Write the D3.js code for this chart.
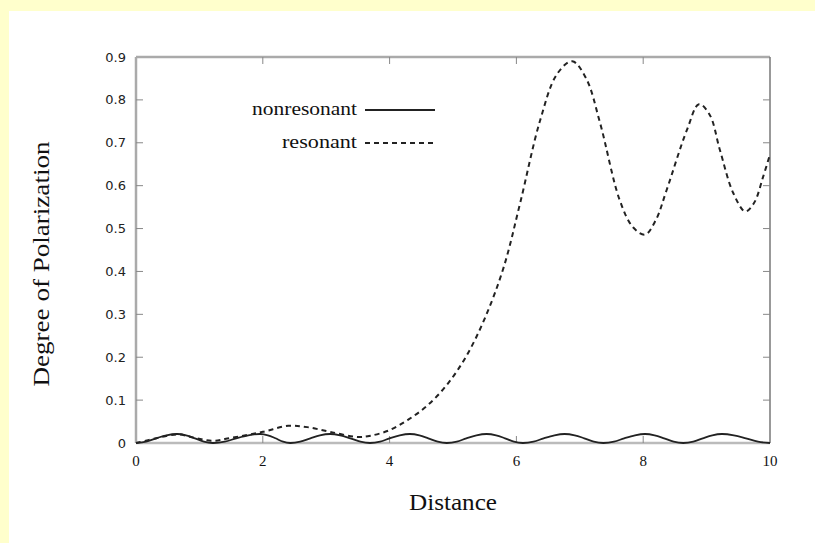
<!DOCTYPE html>
<html>
<head>
<meta charset="utf-8">
<script src="https://cdn.jsdelivr.net/npm/d3@7"></script>
<style>
  body { margin: 0; background: #ffffcc; }
  svg { display: block; }
</style>
</head>
<body>
<div id="chart"></div>
<script>
// values
const seriesNames = ["nonresonant", "resonant"];
const xTicks = [0, 2, 4, 6, 8, 10];
const yTicks = [0, 0.1, 0.2, 0.3, 0.4, 0.5, 0.6, 0.7, 0.8, 0.9];

const nonresX = [0, 0.16, 0.32, 0.48, 0.65, 0.79, 0.93, 1.07, 1.21, 1.4, 1.58, 1.77, 1.96, 2.08, 2.2, 2.32, 2.43, 2.59, 2.75, 2.9, 3.06, 3.22, 3.38, 3.54, 3.69, 3.85, 4.0, 4.16, 4.32, 4.47, 4.61, 4.76, 4.9, 5.06, 5.21, 5.37, 5.53, 5.68, 5.82, 5.96, 6.1, 6.27, 6.43, 6.6, 6.76, 6.92, 7.07, 7.22, 7.37, 7.54, 7.7, 7.87, 8.03, 8.18, 8.33, 8.48, 8.63, 8.79, 8.94, 9.09, 9.24, 9.43, 9.62, 9.81, 10];
const nonresY = [0, 0.003, 0.011, 0.018, 0.021, 0.018, 0.011, 0.003, 0, 0.003, 0.011, 0.018, 0.021, 0.018, 0.011, 0.003, 0, 0.003, 0.011, 0.018, 0.021, 0.018, 0.011, 0.003, 0, 0.003, 0.011, 0.018, 0.021, 0.018, 0.011, 0.003, 0, 0.003, 0.011, 0.018, 0.021, 0.018, 0.011, 0.003, 0, 0.003, 0.011, 0.018, 0.021, 0.018, 0.011, 0.003, 0, 0.003, 0.011, 0.018, 0.021, 0.018, 0.011, 0.003, 0, 0.003, 0.011, 0.018, 0.021, 0.018, 0.011, 0.003, 0];

const resX = [0, 0.32, 0.65, 0.93, 1.2, 1.5, 2.0, 2.4, 2.7, 3.06, 3.5, 3.7, 4.0, 4.3, 4.6, 4.9, 5.2, 5.5, 5.8, 6.06, 6.37, 6.64, 6.88, 7.1, 7.32, 7.63, 7.84, 8.03, 8.2, 8.37, 8.69, 8.88, 9.05, 9.21, 9.42, 9.61, 9.75, 9.89, 10];
const resY = [0, 0.011, 0.02, 0.012, 0.005, 0.012, 0.026, 0.04, 0.037, 0.026, 0.014, 0.017, 0.03, 0.055, 0.088, 0.135, 0.2, 0.29, 0.41, 0.56, 0.75, 0.86, 0.89, 0.85, 0.746, 0.566, 0.503, 0.486, 0.52, 0.59, 0.73, 0.79, 0.765, 0.683, 0.583, 0.54, 0.56, 0.62, 0.673];

const W = 815, H = 543;
const margin = {top: 57, right: 45, bottom: 100, left: 136};
const width = W - margin.left - margin.right,
      height = H - margin.top - margin.bottom;

const svg = d3.select("#chart").append("svg")
  .attr("width", W)
  .attr("height", H);

// white panel inside the yellow page
svg.append("rect")
  .attr("x", 9).attr("y", 11)
  .attr("width", W - 9).attr("height", H - 11)
  .attr("fill", "#fff");

const g = svg.append("g")
  .attr("transform", "translate(" + margin.left + "," + margin.top + ")");

const x = d3.scaleLinear().domain([0, 10]).range([0, width]);
const y = d3.scaleLinear().domain([0, 0.9]).range([height, 0]);

// frame
g.append("line").attr("x1", 0).attr("x2", width).attr("y1", 0).attr("y2", 0)
  .attr("stroke", "#aaa").attr("stroke-width", 2.5);
g.append("line").attr("x1", 0).attr("x2", 0).attr("y1", 0).attr("y2", height)
  .attr("stroke", "#aaa").attr("stroke-width", 2.5);
g.append("line").attr("x1", 0).attr("x2", width).attr("y1", height).attr("y2", height)
  .attr("stroke", "#bbb").attr("stroke-width", 2.5);
g.append("line").attr("x1", width).attr("x2", width).attr("y1", 0).attr("y2", height)
  .attr("stroke", "#777").attr("stroke-width", 1.5);

// inward ticks, mirrored like gnuplot
const tickLen = 7;
g.selectAll(".ytl").data(yTicks.slice(1, -1)).enter().append("line")
  .attr("x1", 0).attr("x2", tickLen)
  .attr("y1", d => y(d)).attr("y2", d => y(d))
  .attr("stroke", "#888").attr("stroke-width", 1);
g.selectAll(".ytr").data(yTicks.slice(1, -1)).enter().append("line")
  .attr("x1", width - tickLen).attr("x2", width)
  .attr("y1", d => y(d)).attr("y2", d => y(d))
  .attr("stroke", "#888").attr("stroke-width", 1);
g.selectAll(".xtb").data(xTicks.slice(1, -1)).enter().append("line")
  .attr("x1", d => x(d)).attr("x2", d => x(d))
  .attr("y1", height).attr("y2", height - tickLen)
  .attr("stroke", "#888").attr("stroke-width", 1);
g.selectAll(".xtt").data(xTicks.slice(1, -1)).enter().append("line")
  .attr("x1", d => x(d)).attr("x2", d => x(d))
  .attr("y1", 0).attr("y2", tickLen)
  .attr("stroke", "#888").attr("stroke-width", 1);

// tick labels
g.selectAll(".ylab").data(yTicks).enter().append("text")
  .attr("x", -10).attr("y", d => y(d) + 4.5)
  .attr("text-anchor", "end")
  .attr("font-family", "DejaVu Sans, sans-serif")
  .attr("font-size", "13px")
  .attr("fill", "#222")
  .text(d => d === 0 ? "0" : d3.format(".1f")(d));

g.selectAll(".xlab").data(xTicks).enter().append("text")
  .attr("x", d => x(d)).attr("y", height + 23)
  .attr("text-anchor", "middle")
  .attr("font-family", "Liberation Serif, serif")
  .attr("font-size", "15px")
  .attr("fill", "#111")
  .text(d => d);

// axis titles
svg.append("text")
  .attr("x", margin.left + width / 2).attr("y", 510)
  .attr("text-anchor", "middle")
  .attr("font-family", "Liberation Serif, serif")
  .attr("font-size", "24px")
  .attr("textLength", 88)
  .attr("lengthAdjust", "spacingAndGlyphs")
  .attr("fill", "#111")
  .text("Distance");

svg.append("text")
  .attr("transform", "translate(49,264) rotate(-90)")
  .attr("text-anchor", "middle")
  .attr("font-family", "Liberation Serif, serif")
  .attr("font-size", "24px")
  .attr("textLength", 245)
  .attr("lengthAdjust", "spacingAndGlyphs")
  .attr("fill", "#111")
  .text("Degree of Polarization");

// curves
const line = d3.line()
  .x(d => x(d[0]))
  .y(d => y(d[1]))
  .curve(d3.curveCatmullRom.alpha(0.5));

g.append("path")
  .datum(nonresX.map((v, i) => [v, nonresY[i]]))
  .attr("d", line)
  .attr("fill", "none")
  .attr("stroke", "#222")
  .attr("stroke-width", 1.8);

g.append("path")
  .datum(resX.map((v, i) => [v, resY[i]]))
  .attr("d", line)
  .attr("fill", "none")
  .attr("stroke", "#222")
  .attr("stroke-width", 2)
  .attr("stroke-dasharray", "5,4");

// legend
const legendY = [110, 143];
const legendLen = [105, 75];
const legend = svg.selectAll(".leg").data(seriesNames).enter().append("g");
legend.append("text")
  .attr("x", 357).attr("y", (d, i) => legendY[i] + 5)
  .attr("text-anchor", "end")
  .attr("font-family", "Liberation Serif, serif")
  .attr("font-size", "18px")
  .attr("textLength", (d, i) => legendLen[i])
  .attr("lengthAdjust", "spacingAndGlyphs")
  .attr("fill", "#111")
  .text(d => d);
legend.append("line")
  .attr("x1", 365).attr("x2", 435)
  .attr("y1", (d, i) => legendY[i]).attr("y2", (d, i) => legendY[i])
  .attr("stroke", "#222")
  .attr("stroke-width", 1.8)
  .attr("stroke-dasharray", (d, i) => i === 1 ? "5,4" : null);
</script>
</body>
</html>
